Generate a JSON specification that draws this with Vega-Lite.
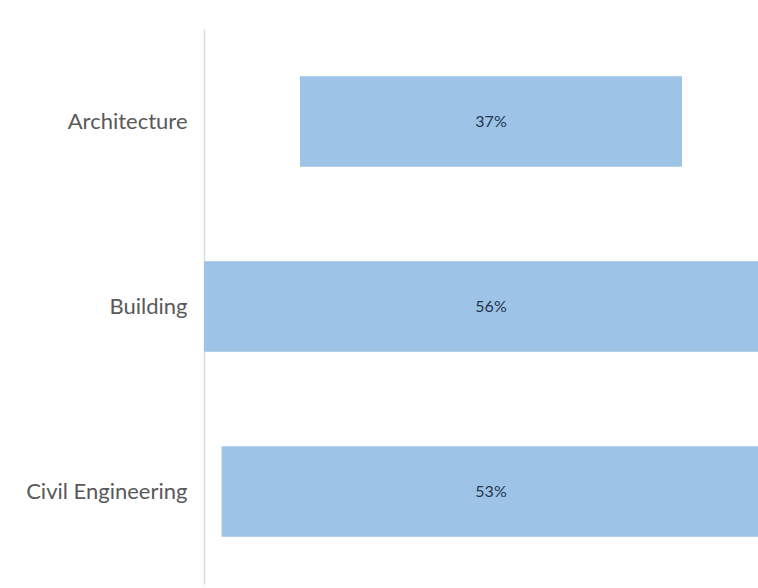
{
  "$schema": "https://vega.github.io/schema/vega-lite/v6.json",
  "width": 554,
  "height": 555,
  "autosize": {"type": "none"},
  "padding": {"left": 204, "top": 29, "right": 0, "bottom": 4},
  "background": "white",
  "config": {"view": {"stroke": null}},
  "data": {
    "values": [
      {"discipline": "Architecture", "start": -18.5, "end": 18.5, "label": "37%"},
      {"discipline": "Building", "start": -28, "end": 28, "label": "56%"},
      {"discipline": "Civil Engineering", "start": -26.1, "end": 26.9, "label": "53%"}
    ]
  },
  "encoding": {
    "y": {
      "field": "discipline",
      "type": "nominal",
      "sort": ["Architecture", "Building", "Civil Engineering"],
      "scale": {"paddingInner": 0.51, "paddingOuter": 0.255},
      "axis": {
        "title": null,
        "ticks": false,
        "domainColor": "#dcdcdc",
        "domainWidth": 1.5,
        "labelPadding": 17,
        "labelFont": "Lato",
        "labelFontSize": 22,
        "labelColor": "#595959"
      }
    }
  },
  "layer": [
    {
      "mark": {"type": "bar", "color": "#9DC3E6", "clip": true},
      "encoding": {
        "x": {"field": "start", "type": "quantitative", "scale": {"domain": [-27.8, 25.86], "nice": false, "zero": false}, "axis": null},
        "x2": {"field": "end"}
      }
    },
    {
      "mark": {"type": "text", "font": "Lato", "fontSize": 16, "color": "#26354F", "align": "center", "baseline": "middle"},
      "encoding": {
        "x": {"datum": 0, "type": "quantitative"},
        "text": {"field": "label"}
      }
    }
  ]
}
